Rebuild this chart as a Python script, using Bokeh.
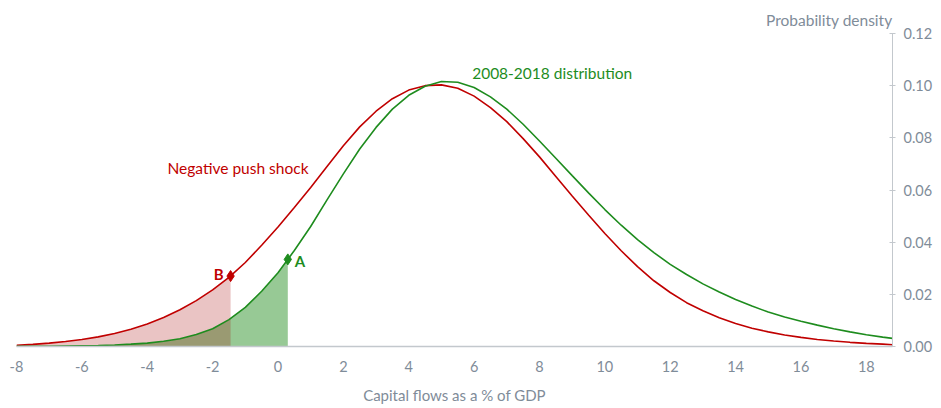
from bokeh.plotting import figure
from bokeh.models import Label, FixedTicker, Range1d, Title
from bokeh.embed import file_html
from bokeh.resources import INLINE

# ---- data ----
x_vals = [-8, -7.5, -7, -6.5, -6, -5.5, -5, -4.5, -4, -3.5, -3, -2.5, -2, -1.5, -1, -0.5,
          0, 0.5, 1, 1.5, 2, 2.5, 3, 3.5, 4, 4.5, 5, 5.5, 6, 6.5, 7, 7.5, 8, 8.5, 9, 9.5,
          10, 10.5, 11, 11.5, 12, 12.5, 13, 13.5, 14, 14.5, 15, 15.5, 16, 16.5, 17, 17.5,
          18, 18.5, 18.8]

base_density = [0.00005, 0.0001, 0.0001, 0.0002, 0.0003, 0.0004, 0.0006, 0.0009, 0.0013, 0.0020,
                0.0030, 0.0046, 0.0068, 0.0103, 0.0150, 0.0212, 0.0283, 0.0368, 0.0460, 0.0562,
                0.0662, 0.0757, 0.0840, 0.0910, 0.0963, 0.0998, 0.1016, 0.1013, 0.0993, 0.0957,
                0.0910, 0.0852, 0.0788, 0.0722, 0.0655, 0.0589, 0.0525, 0.0465, 0.0410, 0.0360,
                0.0315, 0.0276, 0.0240, 0.0209, 0.0180, 0.0155, 0.0132, 0.0113, 0.0097, 0.0082,
                0.0068, 0.0056, 0.0045, 0.0036, 0.0031]

shock_density = [0.0005, 0.0008, 0.0013, 0.0019, 0.0027, 0.0037, 0.0050, 0.0066, 0.0086, 0.0111,
                 0.0141, 0.0176, 0.0217, 0.0265, 0.0322, 0.0388, 0.0458, 0.0533, 0.0610, 0.0690,
                 0.0770, 0.0842, 0.0902, 0.0950, 0.0983, 0.1000, 0.1003, 0.0990, 0.0960, 0.0916,
                 0.0862, 0.0797, 0.0727, 0.0652, 0.0577, 0.0504, 0.0433, 0.0367, 0.0306, 0.0252,
                 0.0207, 0.0168, 0.0137, 0.0110, 0.0088, 0.0070, 0.0056, 0.0044, 0.0035, 0.0027,
                 0.0021, 0.0016, 0.0012, 0.0009, 0.0007]

point_a = (0.3, 0.0334)     # base distribution threshold
point_b = (-1.45, 0.0270)   # shock distribution threshold

x_ticks = [-8, -6, -4, -2, 0, 2, 4, 6, 8, 10, 12, 14, 16, 18]
x_tick_labels = ["-8", "-6", "-4", "-2", "0", "2", "4", "6", "8", "10", "12", "14", "16", "18"]
y_ticks = [0.0, 0.02, 0.04, 0.06, 0.08, 0.10, 0.12]
y_tick_labels = ["0.00", "0.02", "0.04", "0.06", "0.08", "0.10", "0.12"]

RED = "#c00000"
GREEN = "#1e8c1e"
GREY = "#7f8c99"
AXIS = "#c3c8cd"
FONT = "Lato"

p = figure(width=935, height=406, output_backend="svg", toolbar_location=None,
           x_range=Range1d(-8, 18.8), y_range=Range1d(0, 0.12),
           y_axis_location="right",
           min_border_left=16, min_border_right=43, min_border_top=33, min_border_bottom=59)
p.outline_line_color = None
p.xgrid.visible = False
p.ygrid.visible = False

p.title = Title(text="Probability density", align="right", text_color=GREY,
                text_font=FONT, text_font_size="15.5px", text_font_style="normal",
                offset=0, standoff=10)

# shaded tails
def tail(xs, ys, cut):
    tx = [x for x in xs if x < cut[0]] + [cut[0]]
    ty = [y for x, y in zip(xs, ys) if x < cut[0]] + [cut[1]]
    return tx, ty

gx, gy = tail(x_vals, base_density, point_a)
rx, ry = tail(x_vals, shock_density, point_b)
p.varea(x=gx, y1=[0] * len(gx), y2=gy, fill_color="#97c995", fill_alpha=1.0)
p.varea(x=rx, y1=[0] * len(rx), y2=ry, fill_color="#a30000", fill_alpha=0.23)

# curves
p.line(x_vals, shock_density, line_color=RED, line_width=1.6)
p.line(x_vals, base_density, line_color=GREEN, line_width=1.6)

# threshold markers
p.scatter([point_a[0]], [point_a[1]], marker="diamond", size=11, fill_color=GREEN, line_color=GREEN)
p.scatter([point_b[0]], [point_b[1]], marker="diamond", size=11, fill_color=RED, line_color=RED)

p.add_layout(Label(x=point_a[0], y=point_a[1], text="A", x_offset=7, y_offset=-2,
                   text_align="left", text_baseline="middle", text_color=GREEN,
                   text_font=FONT, text_font_size="15px", text_font_style="bold"))
p.add_layout(Label(x=point_b[0], y=point_b[1], text="B", x_offset=-7, y_offset=2,
                   text_align="right", text_baseline="middle", text_color=RED,
                   text_font=FONT, text_font_size="15px", text_font_style="bold"))

p.add_layout(Label(x=-3.38, y=0.0684, text="Negative push shock", text_align="left",
                   text_baseline="middle", text_color=RED, text_font=FONT, text_font_size="15.5px"))
p.add_layout(Label(x=5.94, y=0.1047, text="2008-2018 distribution", text_align="left",
                   text_baseline="middle", text_color=GREEN, text_font=FONT, text_font_size="15.5px"))

# x axis
xa = p.xaxis[0]
xa.ticker = FixedTicker(ticks=x_ticks)
xa.major_label_overrides = {t: l for t, l in zip(x_ticks, x_tick_labels)}
xa.axis_line_color = AXIS
xa.axis_line_width = 1.5
xa.major_tick_line_color = None
xa.minor_tick_line_color = None
xa.major_label_text_color = GREY
xa.major_label_text_font = FONT
xa.major_label_text_font_size = "14.5px"
xa.major_label_standoff = 8
xa.axis_label = "Capital flows as a % of GDP"
xa.axis_label_text_color = GREY
xa.axis_label_text_font = FONT
xa.axis_label_text_font_size = "15px"
xa.axis_label_text_font_style = "normal"
xa.axis_label_standoff = 11

# y axis (right)
ya = p.yaxis[0]
ya.ticker = FixedTicker(ticks=y_ticks)
ya.major_label_overrides = {t: l for t, l in zip(y_ticks, y_tick_labels)}
ya.axis_line_color = AXIS
ya.major_tick_line_color = AXIS
ya.major_tick_in = 3
ya.major_tick_out = 3
ya.minor_tick_line_color = None
ya.major_label_text_color = GREY
ya.major_label_text_font = FONT
ya.major_label_text_font_size = "14.5px"
ya.major_label_standoff = 8

open("out.html", "w").write(file_html(p, INLINE))
